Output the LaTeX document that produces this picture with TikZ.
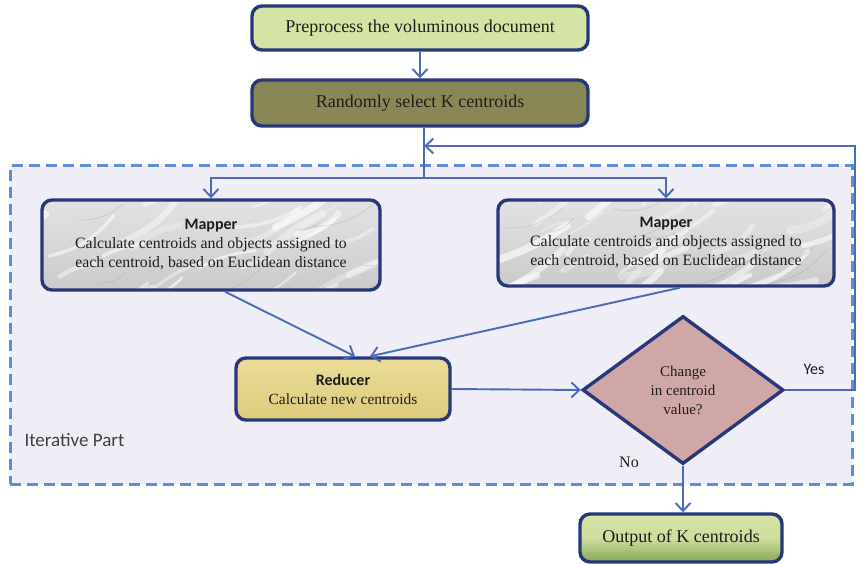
\documentclass[tikz,border=0pt]{standalone}
\usepackage{fontspec}
\setmainfont{Liberation Serif}
\newfontfamily\calib{Carlito}
\usetikzlibrary{arrows.meta,shapes.geometric,calc}

\definecolor{navy}{HTML}{283779}
\definecolor{flow}{HTML}{4A6CB8}
\definecolor{dashblue}{HTML}{5B8FD6}
\definecolor{iterbg}{HTML}{EFEDF6}
\definecolor{palegreen}{HTML}{D5E3A5}
\definecolor{darkgreen}{HTML}{86A855}
\definecolor{olive}{HTML}{8A8756}
\definecolor{parchtop}{HTML}{EADC98}
\definecolor{parchbot}{HTML}{DDCB7C}
\definecolor{rose}{HTML}{CFA7A6}
\definecolor{marble}{HTML}{CACACD}
\definecolor{ink}{HTML}{1E1E1E}

\tikzset{
  box/.style={draw=navy, line width=3.4pt, rounded corners=10pt, align=center,
    inner sep=2pt, text=ink},
  flowline/.style={draw=flow, line width=1.9pt},
  flowarrow/.style={flowline, -{Straight Barb[length=8pt,width=15pt,line width=1.9pt]}},
  % grey marble: grey base with scattered pale veins and faint dark threads
  marblebox/.style={box, top color=marble!55!white, bottom color=marble, middle color=marble!75!white,
    path picture={
      \pgfmathsetseed{#1}
      \foreach \i in {1,...,36}{
        \pgfmathsetmacro{\px}{-0.1+1.1*rnd}
        \pgfmathsetmacro{\py}{rnd}
        \pgfmathsetmacro{\len}{25+55*rnd}
        \pgfmathsetmacro{\ang}{-(10+30*rnd)}
        \pgfmathsetmacro{\wd}{2+6*rnd}
        \pgfmathsetmacro{\op}{0.25+0.4*rnd}
        \pgfmathsetmacro{\bend}{-25+50*rnd}
        \draw[white, opacity=\op, line width=\wd pt, line cap=round]
          ($(path picture bounding box.south west)!\px!(path picture bounding box.south east)
            + (0,{40-130*\py})$)
          to[bend left=\bend] ++(\ang:\len);
      }
      \foreach \i in {1,...,9}{
        \pgfmathsetmacro{\px}{rnd}
        \pgfmathsetmacro{\py}{rnd}
        \pgfmathsetmacro{\len}{25+50*rnd}
        \pgfmathsetmacro{\ang}{-(5+30*rnd)}
        \draw[black!45, opacity=0.3, line width=0.6pt]
          ($(path picture bounding box.south west)!\px!(path picture bounding box.south east)
            + (0,{20-100*\py})$)
          to[bend right=20] ++(\ang:\len);
      }
    }},
  marblebox/.default=7,
  lbl/.style={text=ink}
}

\begin{document}
\begin{tikzpicture}[x=1pt,y=-1pt]
\useasboundingbox (0,0) rectangle (864,564);
\fill[white] (0,0) rectangle (864,564);

% iterative region
\node[draw=dashblue, dash pattern=on 11pt off 6pt, line width=3pt, fill=iterbg,
      minimum width=842pt, minimum height=318pt, inner sep=0pt] (iter) at (431,325) {};
\node[anchor=west, font=\calib\fontsize{19}{22}\selectfont, text=black!75] (iterlbl) at (21,440) {Iterative Part};

% main boxes
\node[box, fill=palegreen, minimum width=336pt, minimum height=44pt,
      font=\fontsize{18}{21}\selectfont] (pre) at (420,28) {Preprocess the voluminous document};
\node[box, fill=olive, minimum width=336pt, minimum height=46pt,
      font=\fontsize{18}{21}\selectfont] (rand) at (420,103) {Randomly select K centroids};

\node[marblebox=11, minimum width=338pt, minimum height=90pt,
      font=\fontsize{15.8}{19}\selectfont] (mapL) at (211,245)
  {{\calib\bfseries\fontsize{16}{19}\selectfont Mapper}\\Calculate centroids and objects assigned to\\each centroid, based on Euclidean distance};
\node[marblebox=29, minimum width=336pt, minimum height=86pt,
      font=\fontsize{15.8}{19}\selectfont] (mapR) at (666,243)
  {{\calib\bfseries\fontsize{16}{19}\selectfont Mapper}\\Calculate centroids and objects assigned to\\each centroid, based on Euclidean distance};

\node[box, top color=parchtop, bottom color=parchbot, minimum width=214pt, minimum height=62pt,
      font=\fontsize{15.5}{19}\selectfont] (red) at (343,389)
  {{\calib\bfseries\fontsize{16}{19}\selectfont Reducer}\\Calculate new centroids};

\node[diamond, draw=navy, line width=3.4pt, fill=rose, minimum width=201pt, minimum height=148pt,
      inner sep=0pt, align=center, font=\fontsize{15}{19}\selectfont, text=ink] (dec) at (683,390)
  {Change\\in centroid\\value?};

\node[box, shading angle=135, top color=palegreen, bottom color=darkgreen, middle color=palegreen!92!darkgreen,
      minimum width=202pt, minimum height=48pt,
      font=\fontsize{18}{21}\selectfont] (out) at (681,538) {Output of K centroids};

% connectors
\draw[flowarrow] (pre) -- (rand);
\coordinate (split) at (424,178);
\coordinate (fb) at (424,146);
\draw[flowline] (rand.south -| split) -- (split);
\draw[flowarrow] (split) -| (mapL.north);
\draw[flowarrow] (split) -| (mapR.north);
\draw[flowarrow] ($(mapL.south)+(14,0)$) -- ($(red.north)+(12,0)$);
\draw[flowarrow] ($(mapR.south)+(14,0)$) -- ($(red.north)+(27,0)$);
\draw[flowarrow] (red.east) -- (dec.west);
\draw[flowarrow] (dec.east) -- ++(70,0) |- (fb);
\draw[flowarrow] (dec.south) -- (dec.south |- out.north);

\node[font=\calib\fontsize{16}{19}\selectfont, lbl] (yes) at (814,369) {Yes};
\node[font=\fontsize{16}{19}\selectfont, lbl] (no) at (629,462) {No};
\end{tikzpicture}
\end{document}
